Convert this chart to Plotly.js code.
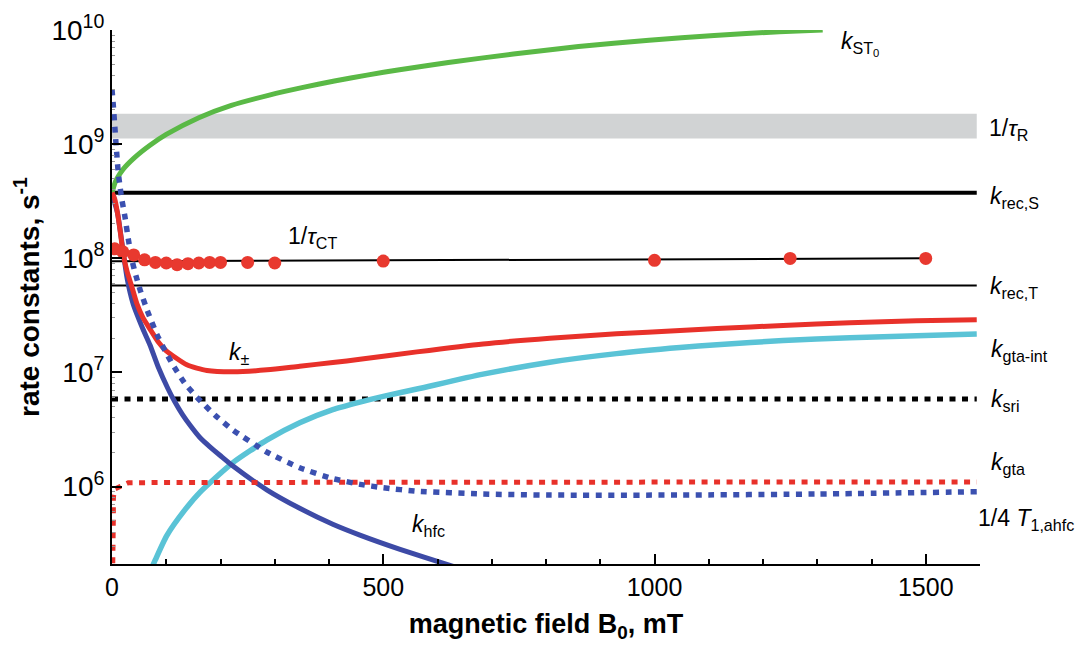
<!DOCTYPE html>
<html>
<head>
<meta charset="utf-8">
<script src="https://cdn.plot.ly/plotly-3.0.1.min.js"></script>
<style>html,body{margin:0;padding:0;background:#fff;}#chart{width:1079px;height:645px;}</style>
</head>
<body>
<div id="chart"></div>
<script>
// ---- data (magnetic field B0 in mT, rate constants in s^-1) ----
const B_band = [0, 1594, 1594, 0];
const k_tauR = [1.12e9, 1.12e9, 1.85e9, 1.85e9];

const B_flat = [0, 1594];
const k_recS = [3.76e8, 3.76e8];
const k_recT = [5.78e7, 5.78e7];
const k_sri = [5.86e6, 5.86e6];

const B_st0 = [0, 5, 10, 20, 40, 70, 100, 160, 220, 290, 350, 410, 470, 530, 620, 740, 860, 990, 1110, 1230, 1310];
const k_st0 = [3.74e8, 4.52e8, 5.07e8, 5.98e8, 7.50e8, 9.77e8, 1.216e9, 1.706e9, 2.188e9, 2.69e9, 3.126e9, 3.573e9, 4.027e9, 4.487e9, 5.188e9, 6.166e9, 7.161e9, 8.128e9, 8.954e9, 9.66e9, 1.0e10];

const B_pm = [0, 5, 10, 15, 21, 28, 36, 46, 57, 70, 85, 100, 138, 175, 223, 286, 346, 407, 457, 562, 684, 807, 930, 1047, 1115, 1237, 1360, 1483, 1594];
const k_pm = [3.76e8, 3.31e8, 2.51e8, 1.738e8, 1.072e8, 7.59e7, 5.75e7, 3.98e7, 3.02e7, 2.40e7, 1.862e7, 1.549e7, 1.167e7, 1.04e7, 1.012e7, 1.054e7, 1.135e7, 1.222e7, 1.303e7, 1.514e7, 1.778e7, 1.995e7, 2.178e7, 2.333e7, 2.427e7, 2.582e7, 2.723e7, 2.831e7, 2.891e7];

const B_hfc = [0, 10, 20, 28, 39, 57, 70, 85, 103, 115, 130, 145, 162, 180, 200, 223, 286, 346, 407, 457, 531, 623, 680];
const k_hfc = [3.63e8, 2.51e8, 1.202e8, 6.61e7, 3.98e7, 2.40e7, 1.738e7, 1.122e7, 7.24e6, 5.62e6, 4.27e6, 3.39e6, 2.69e6, 2.24e6, 1.862e6, 1.514e6, 9.33e5, 6.46e5, 4.68e5, 3.76e5, 2.82e5, 2.04e5, 1.70e5];

const B_ahfc = [0, 2.5, 5.5, 8.6, 11.6, 15, 18, 24, 30, 37, 44, 52, 66, 83, 100, 113, 135, 157, 190, 223, 286, 346, 407, 457, 500, 562, 684, 807, 1047, 1300, 1594];
const k_ahfc = [3.02e9, 2.15e9, 1.35e9, 8.4e8, 5.62e8, 4.17e8, 3.31e8, 2.29e8, 1.479e8, 9.55e7, 7.08e7, 5.25e7, 3.39e7, 2.14e7, 1.479e7, 1.148e7, 7.94e6, 6.03e6, 4.22e6, 3.13e6, 2.0e6, 1.462e6, 1.175e6, 1.047e6, 9.77e5, 9.12e5, 8.61e5, 8.43e5, 8.43e5, 8.61e5, 9.02e5];

const B_gta = [0.5, 2.0, 2.4, 2.6, 5, 15, 30, 100, 800, 1594];
const k_gta = [1.0e5, 2.0e5, 5.0e5, 8.1e5, 9.5e5, 1.0e6, 1.08e6, 1.087e6, 1.095e6, 1.10e6];

const B_int = [70, 80, 101, 135, 162, 223, 286, 346, 407, 457, 500, 562, 684, 807, 930, 1047, 1115, 1237, 1360, 1483, 1594];
const k_int = [1.78e5, 2.29e5, 3.72e5, 6.31e5, 8.91e5, 1.622e6, 2.57e6, 3.63e6, 4.73e6, 5.50e6, 6.17e6, 7.16e6, 9.66e6, 1.23e7, 1.462e7, 1.652e7, 1.75e7, 1.905e7, 2.009e7, 2.094e7, 2.168e7];

const B_ct = [5, 20, 40, 60, 80, 100, 120, 140, 160, 180, 200, 250, 300, 500, 1000, 1250, 1500];
const k_ct = [1.21e8, 1.14e8, 1.07e8, 9.7e7, 9.2e7, 9.1e7, 8.8e7, 8.97e7, 9.1e7, 9.2e7, 9.2e7, 9.2e7, 9.1e7, 9.45e7, 9.6e7, 9.98e7, 9.98e7];
const B_ctfit = [0, 1500];
const k_ctfit = [9.4e7, 1.0e8];

const yTickVals = [1e6, 1e7, 1e8, 1e9, 1e10];
const yTickText = ['10<sup>6</sup>', '10<sup>7</sup>', '10<sup>8</sup>', '10<sup>9</sup>', '10<sup>10</sup>'];
const xTickVals = [0, 500, 1000, 1500];
const xTickText = ['0', '500', '1000', '1500'];

// ---- styles ----
const GREEN = '#5ab946', RED = '#e8312a', CYAN = '#5ac3d6', BLUE = '#3d4aa6', BLUED = '#3b50b0';
const FONT = 'Liberation Sans, Arial, Helvetica, sans-serif';
const DOT = '6px,6.5px';

const traces = [
  {x: B_band, y: k_tauR, mode: 'lines', fill: 'toself', fillcolor: '#d1d3d4', line: {width: 0, color: '#d1d3d4'}},
  {x: B_flat, y: k_recS, mode: 'lines', line: {color: '#000', width: 4}},
  {x: B_flat, y: k_recT, mode: 'lines', line: {color: '#000', width: 2}},
  {x: B_ctfit, y: k_ctfit, mode: 'lines', line: {color: '#000', width: 2}},
  {x: B_flat, y: k_sri, mode: 'lines', line: {color: '#000', width: 5, dash: DOT}},
  {x: B_st0, y: k_st0, mode: 'lines', line: {color: GREEN, width: 5, shape: 'spline', smoothing: 0.6}},
  {x: B_int, y: k_int, mode: 'lines', line: {color: CYAN, width: 5.5, shape: 'spline', smoothing: 0.6}},
  {x: B_hfc, y: k_hfc, mode: 'lines', line: {color: BLUE, width: 5, shape: 'spline', smoothing: 0.6}},
  {x: B_pm, y: k_pm, mode: 'lines', line: {color: RED, width: 5, shape: 'spline', smoothing: 0.6}},
  {x: B_gta, y: k_gta, mode: 'lines', line: {color: RED, width: 5, dash: DOT}},
  {x: B_ahfc, y: k_ahfc, mode: 'lines', line: {color: BLUED, width: 5.5, dash: DOT, shape: 'spline', smoothing: 0.5}},
  {x: B_ct, y: k_ct, mode: 'markers', marker: {color: '#e8392f', size: 13}}
];

// labels: x in axis fraction (paper), y as log10 value on the log axis
const lab = (text, xp, ylog) => ({text: text, x: xp, y: ylog, xref: 'paper', yref: 'y', showarrow: false,
  xanchor: 'left', yanchor: 'middle', font: {family: FONT, size: 23, color: '#000'}});

const annotations = [
  lab('<i>k</i><sub>ST<sub>0</sub></sub>', 0.838, 9.88),
  lab('1/<i>τ</i><sub>R</sub>', 1.008, 9.13),
  lab('<i>k</i><sub>rec,S</sub>', 1.009, 8.53),
  lab('<i>k</i><sub>rec,T</sub>', 1.009, 7.74),
  lab('<i>k</i><sub>gta-int</sub>', 1.010, 7.19),
  lab('<i>k</i><sub>sri</sub>', 1.010, 6.75),
  lab('<i>k</i><sub>gta</sub>', 1.010, 6.2),
  lab('1/4 <i>T</i><sub>1,ahfc</sub>', 0.995, 5.71),
  lab('1/<i>τ</i><sub>CT</sub>', 0.201, 8.18),
  lab('<i>k</i><sub>±</sub>', 0.133, 7.17),
  lab('<i>k</i><sub>hfc</sub>', 0.343, 5.66)
];

const layout = {
  width: 1079, height: 645,
  margin: {l: 112, r: 99, t: 30, b: 81, pad: 0},
  paper_bgcolor: '#fff', plot_bgcolor: '#fff',
  showlegend: false,
  font: {family: FONT, size: 22, color: '#000'},
  xaxis: {
    range: [0, 1600], showgrid: false, zeroline: false,
    showline: true, linecolor: '#000', linewidth: 2,
    tickmode: 'array', tickvals: xTickVals, ticktext: xTickText,
    ticks: 'inside', ticklen: 10, tickwidth: 2, tickcolor: '#000',
    minor: {ticks: 'inside', ticklen: 5, tickwidth: 2, tickcolor: '#000', dtick: 100, showgrid: false},
    tickfont: {family: FONT, size: 25, color: '#000'},
    title: {text: '<b>magnetic field B<sub>0</sub>, mT</b>', font: {family: FONT, size: 27, color: '#000'}, standoff: 14}
  },
  yaxis: {
    type: 'log', range: [5.322, 10], showgrid: false, zeroline: false,
    showline: true, linecolor: '#000', linewidth: 2,
    tickmode: 'array', tickvals: yTickVals, ticktext: yTickText,
    ticks: 'inside', ticklen: 10, tickwidth: 2, tickcolor: '#000',
    minor: {ticks: 'inside', ticklen: 3, tickwidth: 1, tickcolor: '#999', dtick: 'D1', showgrid: false},
    tickfont: {family: FONT, size: 28, color: '#000'},
    title: {text: '<b>rate constants, s<sup>-1</sup></b>', font: {family: FONT, size: 28, color: '#000'}, standoff: 4}
  },
  annotations: annotations
};

Plotly.newPlot('chart', traces, layout, {displayModeBar: false, staticPlot: true});
</script>
</body>
</html>
